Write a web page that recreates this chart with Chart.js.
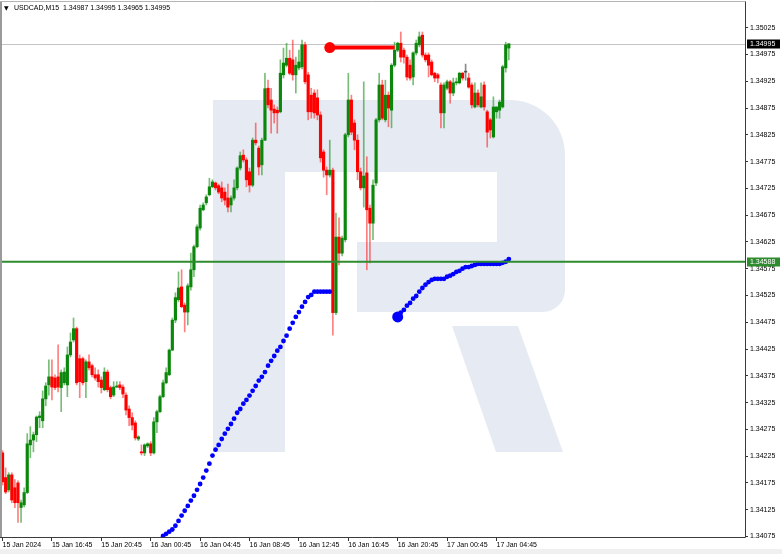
<!DOCTYPE html>
<html><head><meta charset="utf-8">
<script src="https://cdn.jsdelivr.net/npm/chart.js@4.4.1/dist/chart.umd.min.js"></script>
<style>html,body{margin:0;padding:0;background:#fff;overflow:hidden}canvas{display:block}</style>
</head><body>
<canvas id="c" width="782" height="554"></canvas>
<script>
// ---------- DATA ----------
const SYMBOL = 'USDCAD';
const TIMEFRAME = 'M15';

const OPEN = [
1.34231,1.34185,1.34162,1.34190,1.34166,1.34175,1.34129,1.34134,1.34157,1.34246,
1.34255,1.34265,1.34297,1.34291,1.34332,1.34358,1.34373,1.34371,1.34373,1.34353,
1.34362,1.34358,1.34414,1.34442,1.34463,1.34407,1.34407,1.34364,1.34401,1.34394,
1.34377,1.34377,1.34367,1.34349,1.34382,1.34353,1.34339,1.34354,1.34358,1.34354,
1.34339,1.34313,1.34297,1.34287,1.34257,1.34233,1.34231,1.34244,1.34248,1.34231,
1.34289,1.34308,1.34336,1.34362,1.34377,1.34423,1.34479,1.34517,1.34541,1.34507,
1.34494,1.34541,1.34573,1.34616,1.34651,1.34685,1.34698,1.34713,1.34728,1.34735,
1.34730,1.34726,1.34718,1.34707,1.34694,1.34707,1.34726,1.34763,1.34787,1.34778,
1.34756,1.34731,1.34815,1.34800,1.34769,1.34815,1.34912,1.34890,1.34873,1.34871,
1.34868,1.34937,1.34955,1.34968,1.34965,1.34937,1.34950,1.34952,1.34993,1.34937,
1.34899,1.34903,1.34894,1.34862,1.34793,1.34759,1.34750,1.34759,1.34493,1.34634,
1.34604,1.34629,1.34825,1.34890,1.34847,1.34815,1.34756,1.34726,1.34754,1.34688,
1.34660,1.34735,1.34853,1.34918,1.34853,1.34899,1.34871,1.34955,1.34983,1.34996,
1.34983,1.34970,1.34955,1.34933,1.34978,1.34993,1.35011,1.34974,1.34974,1.34961,
1.34940,1.34937,1.34918,1.34866,1.34912,1.34924,1.34903,1.34922,1.34922,1.34940,
1.34942,1.34931,1.34918,1.34877,1.34903,1.34877,1.34918,1.34868,1.34853,1.34821,
1.34868,1.34871,1.34877,1.34950,1.34987];

const HIGH = [
1.34235,1.34203,1.34194,1.34194,1.34181,1.34179,1.34143,1.34166,1.34267,1.34280,
1.34270,1.34300,1.34308,1.34347,1.34362,1.34405,1.34405,1.34377,1.34433,1.34386,
1.34390,1.34429,1.34455,1.34483,1.34466,1.34414,1.34410,1.34405,1.34414,1.34397,
1.34390,1.34386,1.34373,1.34390,1.34386,1.34356,1.34364,1.34364,1.34364,1.34358,
1.34343,1.34319,1.34306,1.34291,1.34263,1.34246,1.34248,1.34250,1.34252,1.34297,
1.34311,1.34339,1.34367,1.34390,1.34425,1.34483,1.34530,1.34569,1.34573,1.34511,
1.34547,1.34604,1.34619,1.34657,1.34694,1.34698,1.34713,1.34744,1.34741,1.34737,
1.34733,1.34737,1.34726,1.34733,1.34711,1.34741,1.34765,1.34793,1.34797,1.34782,
1.34763,1.34819,1.34847,1.34804,1.34819,1.34940,1.34927,1.34912,1.34881,1.34877,
1.34965,1.34987,1.34996,1.34983,1.35002,1.34970,1.34983,1.35002,1.34998,1.34942,
1.34912,1.34909,1.34909,1.34868,1.34797,1.34765,1.34815,1.34763,1.34679,1.34670,
1.34636,1.34828,1.34940,1.34899,1.34853,1.34825,1.34763,1.34924,1.34784,1.34694,
1.34741,1.34856,1.34940,1.34927,1.34927,1.34905,1.34958,1.34998,1.34998,1.35017,
1.34987,1.34974,1.34965,1.34980,1.35002,1.35017,1.35017,1.34978,1.34978,1.34965,
1.34942,1.34940,1.34922,1.34922,1.34927,1.34927,1.34931,1.34931,1.34942,1.34942,
1.34957,1.34940,1.34922,1.34922,1.34909,1.34922,1.34924,1.34871,1.34856,1.34896,
1.34877,1.34890,1.34955,1.34998,1.34995];

const LOW = [
1.34171,1.34155,1.34158,1.34138,1.34129,1.34101,1.34101,1.34130,1.34155,1.34222,
1.34233,1.34252,1.34278,1.34278,1.34319,1.34339,1.34330,1.34349,1.34345,1.34308,
1.34358,1.34336,1.34410,1.34438,1.34358,1.34334,1.34358,1.34334,1.34386,1.34373,
1.34367,1.34354,1.34343,1.34347,1.34345,1.34332,1.34336,1.34353,1.34349,1.34334,
1.34302,1.34282,1.34274,1.34255,1.34254,1.34227,1.34226,1.34241,1.34226,1.34229,
1.34269,1.34306,1.34334,1.34360,1.34375,1.34422,1.34474,1.34513,1.34502,1.34457,
1.34470,1.34535,1.34560,1.34614,1.34647,1.34683,1.34694,1.34711,1.34726,1.34722,
1.34715,1.34700,1.34694,1.34681,1.34681,1.34703,1.34722,1.34759,1.34774,1.34728,
1.34718,1.34728,1.34806,1.34750,1.34750,1.34814,1.34875,1.34828,1.34847,1.34828,
1.34866,1.34931,1.34952,1.34937,1.34927,1.34903,1.34946,1.34948,1.34920,1.34853,
1.34856,1.34856,1.34853,1.34774,1.34746,1.34713,1.34746,1.34451,1.34489,1.34582,
1.34599,1.34625,1.34821,1.34825,1.34797,1.34741,1.34722,1.34690,1.34573,1.34586,
1.34629,1.34730,1.34849,1.34853,1.34849,1.34840,1.34838,1.34952,1.34980,1.34961,
1.34959,1.34927,1.34927,1.34918,1.34974,1.34989,1.34970,1.34961,1.34933,1.34935,
1.34924,1.34922,1.34838,1.34838,1.34909,1.34884,1.34898,1.34918,1.34920,1.34927,
1.34927,1.34912,1.34875,1.34875,1.34877,1.34875,1.34871,1.34802,1.34819,1.34819,
1.34856,1.34856,1.34875,1.34942,1.34965];

const CLOSE = [
1.34177,1.34158,1.34190,1.34143,1.34138,1.34138,1.34138,1.34157,1.34248,1.34255,
1.34265,1.34298,1.34300,1.34332,1.34356,1.34373,1.34354,1.34353,1.34354,1.34381,
1.34382,1.34414,1.34438,1.34463,1.34362,1.34364,1.34362,1.34401,1.34390,1.34377,
1.34371,1.34364,1.34353,1.34382,1.34349,1.34336,1.34354,1.34356,1.34353,1.34341,
1.34311,1.34297,1.34283,1.34259,1.34261,1.34231,1.34246,1.34248,1.34231,1.34289,
1.34308,1.34336,1.34362,1.34381,1.34423,1.34479,1.34521,1.34539,1.34504,1.34494,
1.34543,1.34573,1.34616,1.34653,1.34688,1.34694,1.34709,1.34728,1.34737,1.34726,
1.34718,1.34707,1.34703,1.34690,1.34707,1.34726,1.34763,1.34786,1.34778,1.34741,
1.34731,1.34815,1.34810,1.34765,1.34815,1.34911,1.34881,1.34871,1.34866,1.34866,
1.34940,1.34959,1.34968,1.34940,1.34937,1.34955,1.34961,1.34993,1.34924,1.34868,
1.34868,1.34866,1.34862,1.34782,1.34759,1.34750,1.34759,1.34493,1.34634,1.34604,
1.34632,1.34825,1.34890,1.34830,1.34815,1.34756,1.34726,1.34748,1.34685,1.34660,
1.34731,1.34853,1.34918,1.34856,1.34899,1.34875,1.34955,1.34983,1.34996,1.34970,
1.34970,1.34933,1.34931,1.34978,1.34996,1.35008,1.34974,1.34965,1.34955,1.34937,
1.34931,1.34931,1.34866,1.34918,1.34924,1.34903,1.34922,1.34924,1.34940,1.34931,
1.34942,1.34914,1.34881,1.34903,1.34881,1.34896,1.34877,1.34830,1.34834,1.34877,
1.34877,1.34886,1.34952,1.34993,1.34995];

// blue dotted path (first segment starts at bar 52, second at bar 128)
const BLUE_PATH_1_START = 52;
const BLUE_PATH_1 = [
1.34076,1.34080,1.34084,1.34088,1.34095,1.34104,1.34114,1.34123,1.34132,1.34142,
1.34151,1.34162,1.34173,1.34185,1.34198,1.34211,1.34226,1.34237,1.34246,1.34257,
1.34267,1.34276,1.34285,1.34295,1.34306,1.34313,1.34323,1.34330,1.34338,1.34347,
1.34356,1.34366,1.34373,1.34382,1.34394,1.34403,1.34412,1.34422,1.34429,1.34440,
1.34450,1.34463,1.34474,1.34485,1.34494,1.34504,1.34513,1.34522,1.34526,1.34532,
1.34532,1.34532,1.34532,1.34532,1.34532];
const BLUE_PATH_2_START = 128;
const BLUE_PATH_2 = [
1.34485,1.34493,1.34498,1.34506,1.34511,1.34519,1.34524,1.34532,1.34539,1.34545,
1.34550,1.34554,1.34556,1.34556,1.34556,1.34556,1.34560,1.34562,1.34565,1.34569,
1.34571,1.34575,1.34578,1.34578,1.34580,1.34582,1.34584,1.34584,1.34584,1.34584,
1.34584,1.34584,1.34584,1.34584,1.34586,1.34588,1.34593];

// red horizontal segment
const RED_LEVEL = 1.34988;
const RED_FROM = 106;
const RED_TO = 127;

// horizontal levels
const BID_LEVEL = 1.34995;
const GREEN_LEVEL = 1.34588;

// axis
const Y_MIN = 1.34074, Y_MAX = 1.35073;
const Y_TICKS = [1.34075,1.34125,1.34175,1.34225,1.34275,1.34325,1.34375,1.34425,1.34475,1.34525,
                 1.34575,1.34625,1.34675,1.34725,1.34775,1.34825,1.34875,1.34925,1.34975,1.35025];
const X_TICK_LABELS = ['15 Jan 2024','15 Jan 16:45','15 Jan 20:45','16 Jan 00:45','16 Jan 04:45',
                       '16 Jan 08:45','16 Jan 12:45','16 Jan 16:45','16 Jan 20:45','17 Jan 00:45','17 Jan 04:45'];
const TICK_EVERY = 16;     // one label every 16 bars (4 hours of M15)
const SLOTS = 241;         // visible bar slots in the window

// categories: M15 bar times starting 15 Jan 12:45
const CATEGORIES = [];
for (let i = 0; i < SLOTS; i++) {
  const m = 12*60 + 45 + 15*i;
  const d = 15 + Math.floor(m / 1440), mm = m % 1440;
  CATEGORIES.push(d + ' Jan ' + String(Math.floor(mm/60)).padStart(2,'0') + ':' + String(mm%60).padStart(2,'0'));
}

// ---------- STYLE ----------
const FONT = '"Liberation Sans", Arial, sans-serif';
const UP = '#0b870b', DOWN = '#ff0000', DOJI = '#555555';
const UP_WICK = 'rgba(11,135,11,0.55)', DOWN_WICK = 'rgba(255,0,0,0.5)', DOJI_WICK = 'rgba(60,60,60,0.6)';

const dir = CLOSE.map((c,i) => c > OPEN[i] ? 1 : (c < OPEN[i] ? -1 : 0));
const bodyColors = dir.map(d => d > 0 ? UP : d < 0 ? DOWN : DOJI);
const wickColors = dir.map(d => d > 0 ? UP_WICK : d < 0 ? DOWN_WICK : DOJI_WICK);

const pad = (n) => new Array(n).fill(null);
const blue1 = pad(BLUE_PATH_1_START).concat(BLUE_PATH_1);
const blue2 = pad(BLUE_PATH_2_START).concat(BLUE_PATH_2);
const blue2Radius = BLUE_PATH_2.map((v,i) => i === 0 ? 5.5 : 2.4);

const mt4Plugin = {
  id: 'mt4',
  beforeDraw(chart) {
    const ctx = chart.ctx;
    ctx.save();
    ctx.fillStyle = '#ffffff'; ctx.fillRect(0, 0, chart.width, chart.height);
    ctx.fillStyle = '#f0f0f0'; ctx.fillRect(0, 549, chart.width, chart.height - 549);
    // watermark logo
    ctx.fillStyle = '#e6ebf3';
    ctx.fillRect(213, 100, 72, 352);
    ctx.fillRect(213, 100, 300, 72);
    ctx.beginPath();
    ctx.moveTo(497, 100); ctx.lineTo(510, 100);
    ctx.arcTo(565, 100, 565, 155, 55);
    ctx.lineTo(565, 290);
    ctx.arcTo(565, 312, 543, 312, 22);
    ctx.lineTo(357, 312); ctx.lineTo(357, 242); ctx.lineTo(497, 242);
    ctx.closePath(); ctx.fill();
    ctx.beginPath();
    ctx.moveTo(452, 326); ctx.lineTo(518, 326); ctx.lineTo(563, 452); ctx.lineTo(496, 452);
    ctx.closePath(); ctx.fill();
    ctx.restore();
  },
  beforeDatasetsDraw(chart) {
    const {ctx, chartArea: a, scales: {y}} = chart;
    ctx.save();
    const yb = Math.round(y.getPixelForValue(BID_LEVEL)) + 0.5;
    ctx.strokeStyle = '#c4c4c4'; ctx.lineWidth = 1;
    ctx.beginPath(); ctx.moveTo(a.left, yb); ctx.lineTo(a.right, yb); ctx.stroke();
    ctx.restore();
  },
  afterDatasetsDraw(chart) {
    const {ctx, chartArea: a, scales: {y}} = chart;
    ctx.save();
    const yg = y.getPixelForValue(GREEN_LEVEL);
    ctx.strokeStyle = '#2e8b2e'; ctx.lineWidth = 2;
    ctx.beginPath(); ctx.moveTo(a.left, yg); ctx.lineTo(a.right, yg); ctx.stroke();
    ctx.restore();
  },
  afterDraw(chart) {
    const {ctx, chartArea: a, scales: {y}} = chart;
    ctx.save();
    // frame
    ctx.fillStyle = '#9a9a9a'; ctx.fillRect(0, a.top - 1, 2, a.bottom - a.top + 2);
    ctx.strokeStyle = '#b4b4b4'; ctx.lineWidth = 1;
    ctx.beginPath(); ctx.moveTo(0, a.top - 0.5); ctx.lineTo(a.right + 0.5, a.top - 0.5); ctx.stroke();
    ctx.strokeStyle = '#3c3c3c';
    ctx.beginPath(); ctx.moveTo(a.right + 0.5, a.top - 0.5); ctx.lineTo(a.right + 0.5, a.bottom + 0.5);
    ctx.lineTo(0, a.bottom + 0.5); ctx.stroke();
    // header
    const last = CLOSE.length - 1;
    ctx.fillStyle = '#000'; ctx.textBaseline = 'middle'; ctx.textAlign = 'left';
    ctx.font = '6px "DejaVu Sans"';
    ctx.fillText('\u25BC', 4, 8.5);
    ctx.font = '7px ' + FONT;
    ctx.fillText(SYMBOL + ',' + TIMEFRAME + '  ' + OPEN[last].toFixed(5) + ' ' + HIGH[last].toFixed(5) + ' ' +
                 LOW[last].toFixed(5) + ' ' + CLOSE[last].toFixed(5), 14, 8.5);
    // price tags
    const tag = (v, bg) => {
      const py = y.getPixelForValue(v);
      ctx.fillStyle = bg; ctx.fillRect(a.right + 2, Math.round(py) - 4.5, 33, 9);
      ctx.fillStyle = '#fff'; ctx.font = '7px ' + FONT;
      ctx.fillText(v.toFixed(5), a.right + 5, py + 0.5);
    };
    tag(BID_LEVEL, '#000000');
    tag(GREEN_LEVEL, '#2e8b2e');
    ctx.restore();
  }
};

new Chart(document.getElementById('c'), {
  type: 'bar',
  data: {
    labels: CATEGORIES,
    datasets: [
      { type: 'line', label: 'path1', data: blue1, showLine: false, order: 0,
        pointRadius: 2.4, pointBackgroundColor: '#0000ff', pointBorderWidth: 0, pointHoverRadius: 0 },
      { type: 'line', label: 'path2', data: blue2, showLine: false, order: 0,
        pointRadius: pad(BLUE_PATH_2_START).map(() => 0).concat(blue2Radius),
        pointBackgroundColor: '#0000ff', pointBorderWidth: 0, pointHoverRadius: 0 },
      { type: 'line', label: 'level', order: 0,
        data: [{x: CATEGORIES[RED_FROM], y: RED_LEVEL}, {x: CATEGORIES[RED_TO], y: RED_LEVEL}],
        borderColor: '#ff0000', borderWidth: 4, pointRadius: [5.5, 0],
        pointBackgroundColor: '#ff0000', pointBorderWidth: 0 },
      { label: 'body', data: OPEN.map((o,i) => [o, CLOSE[i]]), backgroundColor: bodyColors,
        barThickness: 2.5, minBarLength: 1, grouped: false, order: 1 },
      { label: 'wick', data: LOW.map((l,i) => [l, HIGH[i]]), backgroundColor: wickColors,
        barThickness: 1, grouped: false, order: 2 }
    ]
  },
  options: {
    responsive: false, animation: false, devicePixelRatio: 1, events: [],
    layout: { autoPadding: false, padding: { left: 1, top: 2, right: 0, bottom: 0 } },
    plugins: { legend: { display: false }, tooltip: { enabled: false }, title: { display: false } },
    scales: {
      x: {
        type: 'category', offset: true,
        grid: { display: true, drawOnChartArea: false, drawTicks: true, tickLength: 4, offset: false,
                color: c => (c.index % TICK_EVERY === 0 && c.index / TICK_EVERY < X_TICK_LABELS.length) ? '#333' : 'rgba(0,0,0,0)' },
        border: { display: false },
        ticks: { autoSkip: false, maxRotation: 0, minRotation: 0, align: 'start', padding: 0,
                 color: '#000', font: { family: FONT, size: 7 },
                 callback: (v, i) => (i % TICK_EVERY === 0 && i / TICK_EVERY < X_TICK_LABELS.length) ? X_TICK_LABELS[i / TICK_EVERY] : '' },
        afterFit: s => { s.height = 17; s.paddingLeft = 0; s.paddingRight = 0; }
      },
      y: {
        position: 'right', min: Y_MIN, max: Y_MAX,
        afterBuildTicks: s => { s.ticks = Y_TICKS.map(v => ({ value: v })); },
        grid: { drawOnChartArea: false, drawTicks: true, tickLength: 3, color: '#333' },
        border: { display: false },
        ticks: { autoSkip: false, padding: 2, color: '#000', font: { family: FONT, size: 7 },
                 callback: v => Number(v).toFixed(5) },
        afterFit: s => { s.width = 37; s.paddingTop = 0; s.paddingBottom = 0; }
      }
    }
  },
  plugins: [mt4Plugin]
});
</script>
</body></html>
